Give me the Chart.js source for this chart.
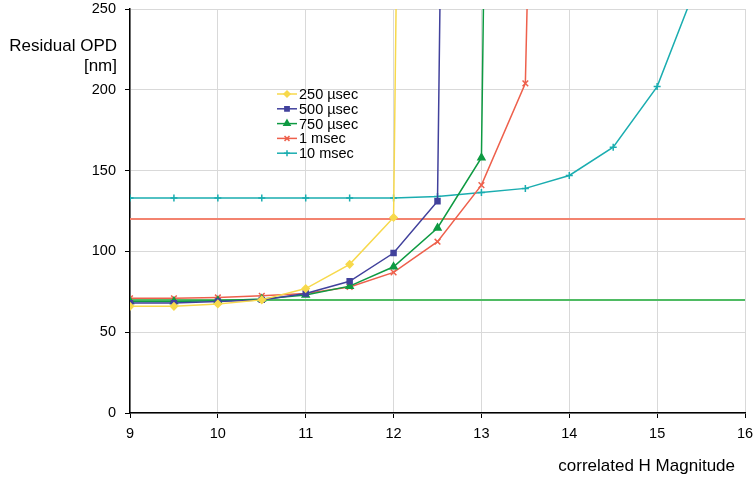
<!DOCTYPE html>
<html>
<head>
<meta charset="utf-8">
<script src="https://cdn.jsdelivr.net/npm/chart.js@4/dist/chart.umd.min.js"></script>
<style>
  html, body { margin: 0; padding: 0; background: #fff; }
  #wrap { width: 754px; height: 480px; }
</style>
</head>
<body>
<div id="wrap"><canvas id="chart"></canvas></div>
<script>
// magnitudes (x) and residual OPD values [nm]
const mags = [9, 9.5, 10, 10.5, 11, 11.5, 12, 12.5, 13, 13.5, 14, 14.5, 15, 15.5];
const opd250us = [66, 66, 67.5, 70, 77, 92, 121, 2400];
const opd500us = [68, 68, 69, 70, 74, 81.5, 99, 131, 2300];
const opd750us = [69, 69, 69.5, 70.5, 73, 78.5, 90.5, 114.5, 158, 2200];
const opd1ms = [71, 71, 71.5, 72.5, 74, 78, 87, 106, 141, 204, 1400];
const opd10ms = [133, 133, 133, 133, 133, 133, 133, 134, 136.5, 139, 147, 164.5, 202, 272];
const refLevels = [120, 70];
const xTicks = [9, 10, 11, 12, 13, 14, 15, 16];
const yTicks = [0, 50, 100, 150, 200, 250];

const FONT = '"Liberation Sans", Arial, sans-serif';

function pts(vals) {
  return vals.map((v, i) => ({ x: mags[i], y: v }));
}

const series = [
  { label: '250 \u00b5sec', data: opd250us, color: '#F7D94C', style: 'rectRot', r: 3.5 },
  { label: '500 \u00b5sec', data: opd500us, color: '#41419C', style: 'rect', r: 3.5 },
  { label: '750 \u00b5sec', data: opd750us, color: '#0E9A42', style: 'triangle', r: 4 },
  { label: '1 msec', data: opd1ms, color: '#EE604C', style: 'crossRot', r: 4 },
  { label: '10 msec', data: opd10ms, color: '#1AADB0', style: 'cross', r: 3.5 },
];

const datasets = series.map((s, i) => ({
  label: s.label,
  data: pts(s.data),
  borderColor: s.color,
  backgroundColor: s.color,
  borderWidth: 1.5,
  pointStyle: s.style,
  pointRadius: s.r,
  pointBorderWidth: 1.5,
  tension: 0,
  order: i,
}));

// horizontal reference levels
const refColors = ['#F3836F', '#4FBB63'];
refLevels.forEach((v, i) => {
  datasets.push({
    label: 'ref' + i,
    data: [{ x: 9, y: v }, { x: 16, y: v }],
    borderColor: refColors[i],
    borderWidth: 2,
    pointRadius: 0,
    order: 10 + i,
  });
});

const overlay = {
  id: 'overlay',
  afterDraw(chart) {
    const ctx = chart.ctx;
    ctx.save();
    // axis titles
    ctx.fillStyle = '#000';
    ctx.font = '17px ' + FONT;
    ctx.textAlign = 'right';
    ctx.textBaseline = 'middle';
    ctx.fillText('Residual OPD', 117, 46);
    ctx.fillText('[nm]', 117, 66);
    ctx.fillText('correlated H Magnitude', 735, 466);

    // legend
    ctx.font = '14.5px ' + FONT;
    ctx.textAlign = 'left';
    series.forEach((s, i) => {
      const y = 94 + i * 14.8;
      ctx.strokeStyle = s.color;
      ctx.fillStyle = s.color;
      ctx.lineWidth = 1.5;
      ctx.beginPath();
      ctx.moveTo(277, y);
      ctx.lineTo(297, y);
      ctx.stroke();
      Chart.helpers.drawPoint(ctx, { pointStyle: s.style, radius: s.r - 0.5, borderWidth: 1.5, rotation: 0 }, 287, y);
      ctx.fillStyle = '#000';
      ctx.fillText(s.label, 299, y + 1);
    });
    ctx.restore();
  },
};

new Chart(document.getElementById('chart'), {
  type: 'line',
  data: { datasets },
  options: {
    responsive: true,
    maintainAspectRatio: false,
    animation: false,
    layout: { padding: { left: 0, right: 9, top: 9, bottom: 0 } },
    plugins: { legend: { display: false }, tooltip: { enabled: false } },
    scales: {
      x: {
        type: 'linear',
        min: 9,
        max: 16,
        afterBuildTicks(scale) { scale.ticks = xTicks.map((v) => ({ value: v })); },
        afterFit(scale) {
          scale.height = 67;
          scale.paddingLeft = 0;
          scale.paddingRight = 0;
        },
        ticks: { color: '#000', font: { family: FONT, size: 14.5 }, padding: 7, maxRotation: 0 },
        grid: { color: '#d9d9d9', tickColor: '#000', tickLength: 5, lineWidth: 1 },
        border: { color: '#000', width: 1.5 },
      },
      y: {
        min: 0,
        max: 250,
        afterBuildTicks(scale) { scale.ticks = yTicks.map((v) => ({ value: v })); },
        afterFit(scale) {
          scale.width = 130;
          scale.paddingTop = 0;
          scale.paddingBottom = 0;
        },
        ticks: { color: '#000', font: { family: FONT, size: 14.5 }, padding: 9 },
        grid: { color: '#d9d9d9', tickColor: '#000', tickLength: 5, lineWidth: 1 },
        border: { color: '#000', width: 1.5 },
      },
    },
  },
  plugins: [overlay],
});
</script>
</body>
</html>
